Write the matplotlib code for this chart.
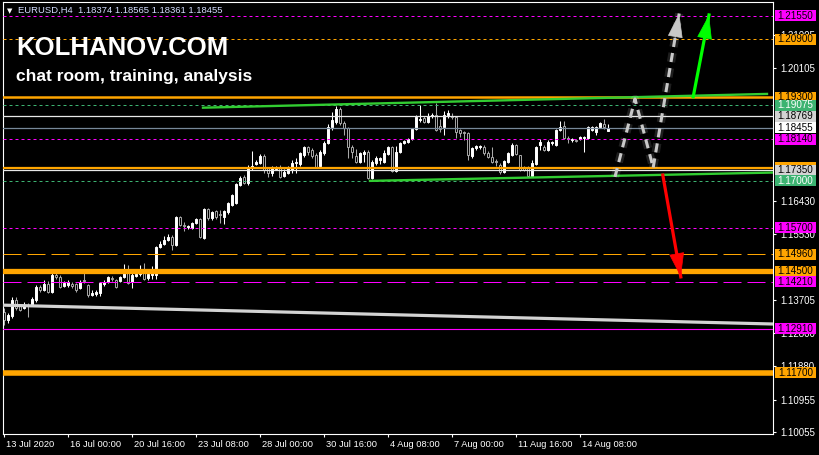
import matplotlib
matplotlib.use('Agg')
import matplotlib.pyplot as plt
import matplotlib.transforms as mtransforms
import matplotlib.patheffects as pe
from matplotlib.patches import Rectangle, FancyArrowPatch, ArrowStyle

plt.rcParams['font.family'] = ['Liberation Sans', 'DejaVu Sans']

# EURUSD H4 bars, 13 Jul - 14 Aug 2020
opens = [1.1337, 1.1315, 1.1326, 1.1370, 1.1354, 1.1348, 1.1354, 1.1356, 1.1370, 1.1406,
         1.1398, 1.1414, 1.1392, 1.1439, 1.1434, 1.1409, 1.1412, 1.1414, 1.1414, 1.1403,
         1.1425, 1.1412, 1.1384, 1.1387, 1.1389, 1.1414, 1.1420, 1.1431, 1.1425, 1.1423,
         1.1434, 1.1448, 1.1420, 1.1437, 1.1442, 1.1448, 1.1431, 1.1439, 1.1439, 1.1517,
         1.1525, 1.1536, 1.1544, 1.1522, 1.1599, 1.1577, 1.1572, 1.1569, 1.1583, 1.1594,
         1.1541, 1.1621, 1.1597, 1.1616, 1.1608, 1.1599, 1.1613, 1.1632, 1.1638, 1.1688,
         1.1710, 1.1693, 1.1735, 1.1746, 1.1748, 1.1768, 1.1735, 1.1721, 1.1732, 1.1737,
         1.1713, 1.1721, 1.1729, 1.1748, 1.1746, 1.1771, 1.1793, 1.1784, 1.1771, 1.1740,
         1.1776, 1.1804, 1.1848, 1.1861, 1.1897, 1.1859, 1.1845, 1.1793, 1.1768, 1.1751,
         1.1773, 1.1779, 1.1707, 1.1748, 1.1757, 1.1751, 1.1773, 1.1793, 1.1726, 1.1779,
         1.1804, 1.1806, 1.1815, 1.1842, 1.1867, 1.1872, 1.1861, 1.1878, 1.1881, 1.1850,
         1.1848, 1.1881, 1.1878, 1.1875, 1.1839, 1.1834, 1.1831, 1.1768, 1.1790, 1.1793,
         1.1793, 1.1776, 1.1765, 1.1754, 1.1743, 1.1724, 1.1751, 1.1771, 1.1798, 1.1771,
         1.1735, 1.1737, 1.1713, 1.1746, 1.1798, 1.1793, 1.1784, 1.1804, 1.1798, 1.1839,
         1.1850, 1.1817, 1.1812, 1.1812, 1.1815, 1.1817, 1.1817, 1.1839, 1.1834, 1.1848,
         1.1856, 1.18374]
highs = [1.1348, 1.1334, 1.1378, 1.1378, 1.1359, 1.1365, 1.1362, 1.1378, 1.1412, 1.1412,
         1.1425, 1.1423, 1.1445, 1.1448, 1.1439, 1.1423, 1.1425, 1.1420, 1.1417, 1.1425,
         1.1445, 1.1414, 1.1398, 1.1398, 1.1420, 1.1425, 1.1437, 1.1437, 1.1428, 1.1437,
         1.1470, 1.1467, 1.1445, 1.1448, 1.1467, 1.1472, 1.1445, 1.1464, 1.1519, 1.1533,
         1.1547, 1.1552, 1.1550, 1.1602, 1.1602, 1.1586, 1.1577, 1.1586, 1.1597, 1.1597,
         1.1624, 1.1624, 1.1616, 1.1619, 1.1619, 1.1619, 1.1641, 1.1663, 1.1693, 1.1713,
         1.1715, 1.1743, 1.1782, 1.1757, 1.1773, 1.1773, 1.1737, 1.1740, 1.1740, 1.1743,
         1.1732, 1.1740, 1.1757, 1.1762, 1.1779, 1.1795, 1.1795, 1.1790, 1.1776, 1.1784,
         1.1809, 1.1856, 1.1889, 1.1906, 1.1903, 1.1864, 1.1848, 1.1798, 1.1787, 1.1779,
         1.1784, 1.1784, 1.1757, 1.1768, 1.1765, 1.1784, 1.1795, 1.1795, 1.1795, 1.1806,
         1.1812, 1.1817, 1.1845, 1.1881, 1.1908, 1.1878, 1.1886, 1.1886, 1.1914, 1.1870,
         1.1892, 1.1895, 1.1886, 1.1878, 1.1842, 1.1837, 1.1834, 1.1793, 1.1798, 1.1798,
         1.1798, 1.1782, 1.1793, 1.1759, 1.1748, 1.1757, 1.1779, 1.1804, 1.1801, 1.1771,
         1.1740, 1.1740, 1.1757, 1.1795, 1.1815, 1.1798, 1.1812, 1.1809, 1.1842, 1.1864,
         1.1864, 1.1823, 1.1817, 1.1815, 1.1823, 1.1823, 1.1850, 1.1850, 1.1850, 1.1861,
         1.1870, 1.18565]
lows = [1.1301, 1.1307, 1.1321, 1.1343, 1.1340, 1.1345, 1.1323, 1.1354, 1.1365, 1.1392,
        1.1395, 1.1389, 1.1389, 1.1428, 1.1403, 1.1406, 1.1406, 1.1403, 1.1392, 1.1400,
        1.1417, 1.1378, 1.1381, 1.1381, 1.1381, 1.1409, 1.1417, 1.1423, 1.1403, 1.1420,
        1.1431, 1.1414, 1.1403, 1.1434, 1.1437, 1.1425, 1.1425, 1.1428, 1.1428, 1.1514,
        1.1522, 1.1533, 1.1508, 1.1519, 1.1575, 1.1561, 1.1566, 1.1566, 1.1580, 1.1541,
        1.1539, 1.1591, 1.1591, 1.1594, 1.1583, 1.1580, 1.1608, 1.1630, 1.1635, 1.1685,
        1.1690, 1.1688, 1.1729, 1.1743, 1.1746, 1.1721, 1.1710, 1.1713, 1.1729, 1.1707,
        1.1710, 1.1718, 1.1721, 1.1721, 1.1740, 1.1765, 1.1771, 1.1762, 1.1735, 1.1737,
        1.1771, 1.1801, 1.1839, 1.1856, 1.1853, 1.1826, 1.1762, 1.1762, 1.1748, 1.1748,
        1.1751, 1.1704, 1.1704, 1.1743, 1.1746, 1.1748, 1.1771, 1.1724, 1.1724, 1.1776,
        1.1801, 1.1804, 1.1812, 1.1839, 1.1861, 1.1859, 1.1859, 1.1872, 1.1837, 1.1834,
        1.1826, 1.1872, 1.1870, 1.1817, 1.1820, 1.1812, 1.1757, 1.1762, 1.1784, 1.1787,
        1.1771, 1.1762, 1.1748, 1.1740, 1.1718, 1.1721, 1.1748, 1.1768, 1.1771, 1.1726,
        1.1726, 1.1710, 1.1710, 1.1743, 1.1784, 1.1782, 1.1782, 1.1798, 1.1795, 1.1837,
        1.1815, 1.1804, 1.1806, 1.1806, 1.1812, 1.1779, 1.1815, 1.1837, 1.1826, 1.1845,
        1.1842, 1.18361]
closes = [1.1315, 1.1329, 1.1370, 1.1348, 1.1343, 1.1356, 1.1353, 1.1373, 1.1406, 1.1398,
          1.1414, 1.1392, 1.1439, 1.1434, 1.1406, 1.1417, 1.1420, 1.1409, 1.1398, 1.1420,
          1.1423, 1.1384, 1.1389, 1.1392, 1.1417, 1.1420, 1.1434, 1.1428, 1.1406, 1.1434,
          1.1450, 1.1417, 1.1439, 1.1442, 1.1445, 1.1428, 1.1442, 1.1448, 1.1517, 1.1525,
          1.1536, 1.1544, 1.1522, 1.1599, 1.1577, 1.1575, 1.1575, 1.1583, 1.1594, 1.1544,
          1.1621, 1.1597, 1.1613, 1.1599, 1.1605, 1.1616, 1.1638, 1.1660, 1.1690, 1.1707,
          1.1693, 1.1737, 1.1740, 1.1751, 1.1768, 1.1729, 1.1721, 1.1737, 1.1735, 1.1710,
          1.1724, 1.1735, 1.1748, 1.1751, 1.1776, 1.1793, 1.1779, 1.1768, 1.1737, 1.1779,
          1.1804, 1.1848, 1.1867, 1.1897, 1.1859, 1.1845, 1.1793, 1.1779, 1.1751, 1.1776,
          1.1779, 1.1707, 1.1751, 1.1762, 1.1762, 1.1776, 1.1793, 1.1726, 1.1779, 1.1804,
          1.1809, 1.1815, 1.1842, 1.1875, 1.1870, 1.1861, 1.1878, 1.1881, 1.1839, 1.1842,
          1.1881, 1.1886, 1.1875, 1.1834, 1.1831, 1.1831, 1.1771, 1.1790, 1.1795, 1.1795,
          1.1776, 1.1765, 1.1751, 1.1751, 1.1724, 1.1754, 1.1776, 1.1798, 1.1773, 1.1729,
          1.1729, 1.1713, 1.1748, 1.1793, 1.1806, 1.1784, 1.1806, 1.1806, 1.1839, 1.1848,
          1.1817, 1.1815, 1.1815, 1.1809, 1.1820, 1.1820, 1.1848, 1.1848, 1.1848, 1.1859,
          1.1848, 1.18455]

date_ticks = [0, 16, 32, 48, 64, 80, 96, 112, 128, 144]
date_labels = ['13 Jul 2020', '16 Jul 00:00', '20 Jul 16:00', '23 Jul 08:00', '28 Jul 00:00',
               '30 Jul 16:00', '4 Aug 08:00', '7 Aug 00:00', '11 Aug 16:00', '14 Aug 08:00']
# scale values that are not hidden behind the level boxes
price_ticks = [1.10055, 1.10955, 1.11880, 1.12800, 1.13705, 1.15530, 1.16430,
               1.20105, 1.21005]

# horizontal levels: price, line colour, width, dashes, box colour, text colour
levels = [
    (1.21550, '#FF00FF', 0.8, (3, 3), '#FF00FF', 'black'),
    (1.20900, '#FFA500', 0.8, (3, 3), '#FFA500', 'black'),
    (1.19300, '#FFA500', 1.8, None, '#FFA500', 'black'),
    (1.19075, '#3CB371', 0.8, (3, 3), '#3CB371', 'white'),
    (1.18769, '#E8E8E8', 0.9, None, '#D3D3D3', 'black'),
    (1.18455, '#778899', 0.9, None, '#FFFFFF', 'black'),
    (1.18140, '#FF00FF', 0.8, (3, 3), '#FF00FF', 'black'),
    (1.17350, '#FFA500', 1.6, None, '#FFA500', 'black'),
    (1.17280, '#E8E8E8', 0.9, None, '#D3D3D3', 'black'),
    (1.17000, '#3CB371', 0.8, (3, 3), '#3CB371', 'white'),
    (1.15700, '#FF00FF', 0.8, (3, 3), '#FF00FF', 'black'),
    (1.14960, '#FFA500', 0.8, (18, 6), '#FFA500', 'black'),
    (1.14500, '#FFA500', 3.8, None, '#FFA500', 'black'),
    (1.14210, '#FF00FF', 0.8, (18, 6), '#FF00FF', 'black'),
    (1.12910, '#FF00FF', 0.8, None, '#FF00FF', 'black'),
    (1.11700, '#FFA500', 4.0, None, '#FFA500', 'black'),
]
# the orange 1.1735 box sits under the grey one, so only one text shows there
level_texts = ['1.21550', '1.20900', '1.19300', '1.19075', '1.18769', '1.18455', '1.18140',
               '', '1.17350', '1.17000', '1.15700', '1.14960', '1.14500', '1.14210',
               '1.12910', '1.11700']

# trend lines (bar index, price)
upper_green_x = [49.75, 190.75]
upper_green_y = [1.1901, 1.1939]
lower_green_x = [91.5, 192.25]
lower_green_y = [1.1699, 1.1722]
gray_trend_x = [-0.25, 192.25]
gray_trend_y = [1.1356, 1.1304]

# scenario arrows
gray_path_x = [152.75, 157.75, 162.3, 168.8]
gray_path_y = [1.1710, 1.1925, 1.1736, 1.2161]
green_arrow_x = [172.3, 176.25]
green_arrow_y = [1.1931, 1.2157]
red_arrow_x = [164.7, 169.2]
red_arrow_y = [1.1715, 1.1434]

W, H = 819, 455
fig = plt.figure(figsize=(W / 100, H / 100), dpi=100, facecolor='black')
ax = fig.add_axes([3 / W, 21 / H, 770 / W, 432 / H], facecolor='black')
ax.set_xlim(-0.25, 192.25)
ax.set_ylim(1.10004, 1.21927)
px = (1.21927 - 1.10004) / 432  # price per pixel

# candles
for i in range(len(opens)):
    o, h, l, c = opens[i], highs[i], lows[i], closes[i]
    bull = c >= o
    col = 'white' if bull else '#A8A8A8'
    ax.vlines(i, l, h, color=col, lw=0.75, zorder=2)
    body = max(abs(c - o), px)
    ax.bar(i, body, bottom=min(o, c), width=0.72, color='white' if bull else 'black',
           edgecolor=col, lw=0.7, zorder=2.1)

# trend lines
ax.plot(gray_trend_x, gray_trend_y, color='#D3D3D3', lw=2.3, zorder=3, solid_capstyle='butt')
ax.plot(upper_green_x, upper_green_y, color='#32CD32', lw=1.7, zorder=3.2)
ax.plot(lower_green_x, lower_green_y, color='#32CD32', lw=1.7, zorder=3.2)

# levels and price boxes
blend = mtransforms.blended_transform_factory(fig.transFigure, ax.transData)
bh = 11 * px
for (p, lc, lw, dash, bc, tc), txt in zip(levels, level_texts):
    ln, = ax.plot([-0.25, 192.25], [p, p], color=lc, lw=lw, zorder=3)
    if dash is not None:
        ln.set_dashes(dash)
        ln.set_linewidth(0.72)
    ax.add_patch(Rectangle((775 / W, p - bh / 2), 41 / W, bh, transform=blend,
                           facecolor=bc, edgecolor='none', clip_on=False, zorder=6))
    if txt:
        ax.text(795.5 / W, p, txt, transform=blend, ha='center', va='center', fontsize=7.1,
                color=tc, clip_on=False, zorder=7)

# arrows
glow = [pe.withStroke(linewidth=6, foreground='#FFFFFF', alpha=0.12)]
ax.plot(gray_path_x[:-1], gray_path_y[:-1], color='#C8C8C8', lw=2.2, zorder=4,
        dashes=(3, 2), path_effects=glow)
ax.plot(gray_path_x[-2:], gray_path_y[-2:], color='#C8C8C8', lw=2.2, zorder=4,
        dashes=(3, 2), path_effects=glow)
head = ArrowStyle('-|>', head_length=16, head_width=5)
for xs, ys, col in [(gray_path_x[-2:], gray_path_y[-2:], '#C8C8C8'),
                    (green_arrow_x, green_arrow_y, '#00FF00'),
                    (red_arrow_x, red_arrow_y, '#FF0000')]:
    if col != '#C8C8C8':
        ax.plot(xs, ys, color=col, lw=2.3, zorder=4)
    t = 0.82
    a = FancyArrowPatch((xs[0] + (xs[1] - xs[0]) * t, ys[0] + (ys[1] - ys[0]) * t),
                        (xs[1], ys[1]), arrowstyle=head, mutation_scale=1,
                        color=col, lw=0.5, shrinkA=0, shrinkB=0, zorder=4.5)
    ax.add_patch(a)

# axes styling
for s in ax.spines.values():
    s.set_color('white')
    s.set_linewidth(0.8)
ax.yaxis.tick_right()
ax.set_yticks(price_ticks)
ax.set_yticklabels(['%.5f' % v for v in price_ticks])
ax.set_xticks(date_ticks)
ax.set_xticklabels(date_labels, ha='left')
ax.tick_params(axis='both', colors='white', direction='out', length=2.5, width=0.8,
               labelcolor='white')
ax.tick_params(axis='y', pad=3, labelsize=7.0)
ax.tick_params(axis='x', pad=2, labelsize=6.7)
for lab in ax.get_xticklabels():
    lab.set_transform(lab.get_transform() + mtransforms.ScaledTranslation(1.5 / 72, 0, fig.dpi_scale_trans))

# header texts
fig.text(7 / W, 1 - 11 / H, '\u25BC', color='white', fontsize=5, va='center',
         family='DejaVu Sans')
fig.text(18 / W, 1 - 10.5 / H, 'EURUSD,H4  1.18374 1.18565 1.18361 1.18455',
         color='#D4DEFF', fontsize=6.8, va='center')
fig.text(16 / W, 1 - 55 / H, 'KOLHANOV.COM', color='white', fontsize=18.5,
         fontweight='bold', va='baseline')
fig.text(16 / W, 1 - 81.5 / H, 'chat room, training, analysis', color='white',
         fontsize=12.5, fontweight='bold', va='baseline')

fig.savefig('out.png', dpi=100, facecolor='black')
